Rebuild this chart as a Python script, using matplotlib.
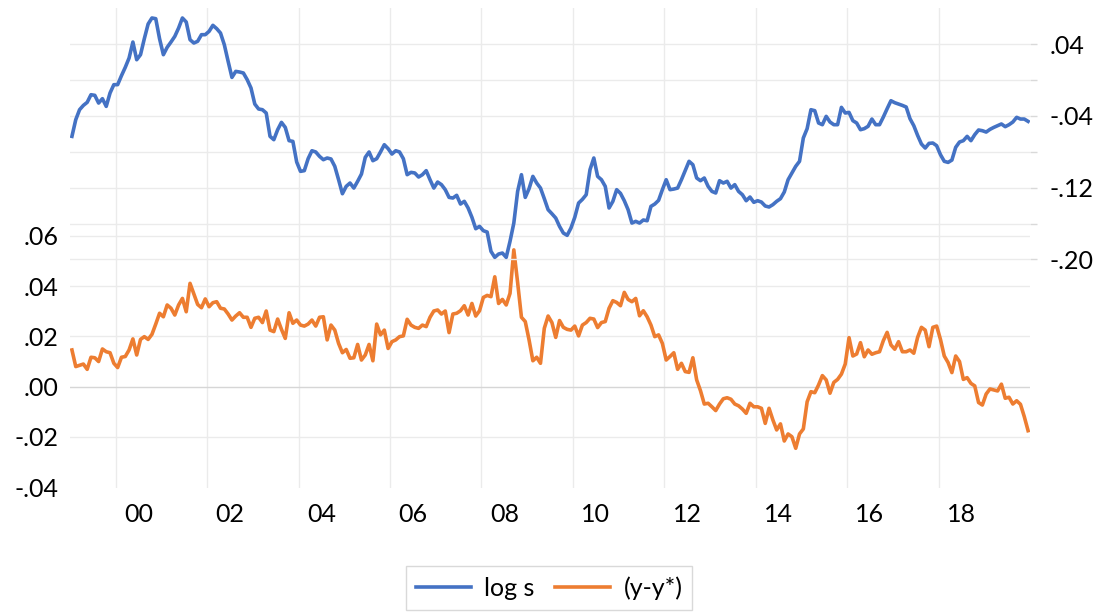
import numpy as np
import matplotlib
matplotlib.use("Agg")
import matplotlib.pyplot as plt
from matplotlib.lines import Line2D

plt.rcParams["font.family"] = ["Lato", "DejaVu Sans"]

# monthly data, 1999M01 - 2019M12, split into 7-year blocks
start_year = 1999

log_s_99_05 = [
    -0.0629, -0.0443, -0.0332, -0.0284, -0.0250, -0.0165, -0.0172, -0.0258, -0.0209, -0.0295,
    -0.0146, -0.0053, -0.0053, 0.0047, 0.0140, 0.0244, 0.0422, 0.0225, 0.0281, 0.0459,
    0.0623, 0.0690, 0.0682, 0.0459, 0.0281, 0.0363, 0.0422, 0.0485, 0.0578, 0.0690,
    0.0645, 0.0448, 0.0411, 0.0430, 0.0504, 0.0504, 0.0541, 0.0608, 0.0571, 0.0522,
    0.0392, 0.0207, 0.0028, 0.0095, 0.0088, 0.0077, 0.0003, -0.0090, -0.0269, -0.0324,
    -0.0332, -0.0369, -0.0629, -0.0666, -0.0555, -0.0473, -0.0529, -0.0677, -0.0685, -0.0915,
    -0.1019, -0.1011, -0.0878, -0.0789, -0.0803, -0.0852, -0.0889, -0.0870, -0.0881, -0.0963,
    -0.1112, -0.1268, -0.1186, -0.1149, -0.1205, -0.1130, -0.1049, -0.0863, -0.0803, -0.0900,
    -0.0878, -0.0803, -0.0722, -0.0766,
]
log_s_06_12 = [
    -0.0826, -0.0789, -0.0803, -0.0878, -0.1056, -0.1030, -0.1037, -0.1082, -0.1056, -0.1011,
    -0.1112, -0.1205, -0.1138, -0.1167, -0.1223, -0.1309, -0.1316, -0.1286, -0.1383, -0.1353,
    -0.1427, -0.1531, -0.1658, -0.1632, -0.1680, -0.1695, -0.1910, -0.1977, -0.1940, -0.1929,
    -0.1977, -0.1799, -0.1595, -0.1242, -0.1056, -0.1309, -0.1212, -0.1075, -0.1149, -0.1205,
    -0.1323, -0.1446, -0.1491, -0.1539, -0.1632, -0.1706, -0.1732, -0.1650, -0.1531, -0.1372,
    -0.1331, -0.1279, -0.1000, -0.0870, -0.1075, -0.1112, -0.1186, -0.1427, -0.1353, -0.1223,
    -0.1264, -0.1346, -0.1446, -0.1595, -0.1576, -0.1595, -0.1561, -0.1569, -0.1409, -0.1383,
    -0.1342, -0.1223, -0.1112, -0.1223, -0.1216, -0.1205, -0.1112, -0.1011, -0.0907, -0.0945,
    -0.1093, -0.1123, -0.1093, -0.1186,
]
log_s_13_19 = [
    -0.1242, -0.1260, -0.1123, -0.1149, -0.1130, -0.1205, -0.1167, -0.1242, -0.1279, -0.1346,
    -0.1305, -0.1364, -0.1346, -0.1361, -0.1405, -0.1416, -0.1390, -0.1353, -0.1323, -0.1249,
    -0.1112, -0.1037, -0.0963, -0.0907, -0.0647, -0.0543, -0.0332, -0.0343, -0.0480, -0.0499,
    -0.0406, -0.0469, -0.0499, -0.0499, -0.0306, -0.0369, -0.0362, -0.0454, -0.0480, -0.0555,
    -0.0543, -0.0517, -0.0436, -0.0499, -0.0499, -0.0414, -0.0321, -0.0232, -0.0254, -0.0269,
    -0.0284, -0.0302, -0.0432, -0.0510, -0.0618, -0.0714, -0.0759, -0.0707, -0.0703, -0.0733,
    -0.0833, -0.0907, -0.0919, -0.0893, -0.0751, -0.0692, -0.0677, -0.0629, -0.0677, -0.0610,
    -0.0558, -0.0566, -0.0581, -0.0551, -0.0529, -0.0510, -0.0491, -0.0521, -0.0499, -0.0469,
    -0.0417, -0.0436, -0.0436, -0.0462,
]

gap_99_05 = [
    0.0146, 0.0080, 0.0085, 0.0090, 0.0069, 0.0117, 0.0115, 0.0100, 0.0150, 0.0139,
    0.0135, 0.0093, 0.0076, 0.0117, 0.0120, 0.0146, 0.0190, 0.0126, 0.0188, 0.0199,
    0.0188, 0.0208, 0.0249, 0.0292, 0.0278, 0.0325, 0.0312, 0.0285, 0.0325, 0.0351,
    0.0298, 0.0411, 0.0369, 0.0327, 0.0314, 0.0349, 0.0318, 0.0334, 0.0338, 0.0312,
    0.0309, 0.0289, 0.0265, 0.0281, 0.0294, 0.0276, 0.0276, 0.0236, 0.0272, 0.0276,
    0.0255, 0.0301, 0.0225, 0.0219, 0.0269, 0.0228, 0.0192, 0.0294, 0.0252, 0.0265,
    0.0245, 0.0241, 0.0249, 0.0265, 0.0241, 0.0276, 0.0278, 0.0186, 0.0245, 0.0225,
    0.0172, 0.0135, 0.0148, 0.0113, 0.0115, 0.0168, 0.0106, 0.0126, 0.0168, 0.0103,
    0.0249, 0.0206, 0.0225, 0.0152,
]
gap_06_12 = [
    0.0179, 0.0186, 0.0199, 0.0202, 0.0268, 0.0245, 0.0236, 0.0232, 0.0245, 0.0239,
    0.0276, 0.0301, 0.0305, 0.0289, 0.0301, 0.0215, 0.0289, 0.0292, 0.0302, 0.0322,
    0.0285, 0.0331, 0.0281, 0.0302, 0.0355, 0.0363, 0.0358, 0.0437, 0.0331, 0.0347,
    0.0325, 0.0371, 0.0544, 0.0414, 0.0276, 0.0259, 0.0186, 0.0103, 0.0117, 0.0093,
    0.0232, 0.0281, 0.0255, 0.0196, 0.0263, 0.0236, 0.0228, 0.0225, 0.0241, 0.0202,
    0.0245, 0.0255, 0.0272, 0.0269, 0.0235, 0.0255, 0.0259, 0.0312, 0.0342, 0.0335,
    0.0322, 0.0375, 0.0347, 0.0338, 0.0351, 0.0282, 0.0302, 0.0278, 0.0245, 0.0199,
    0.0206, 0.0172, 0.0106, 0.0120, 0.0135, 0.0069, 0.0093, 0.0060, 0.0057, 0.0115,
    0.0027, -0.0016, -0.0069, -0.0066,
]
gap_13_19 = [
    -0.0080, -0.0095, -0.0069, -0.0048, -0.0044, -0.0050, -0.0069, -0.0076, -0.0089, -0.0106,
    -0.0066, -0.0080, -0.0080, -0.0086, -0.0146, -0.0086, -0.0132, -0.0172, -0.0148, -0.0216,
    -0.0188, -0.0199, -0.0245, -0.0188, -0.0168, -0.0060, -0.0020, -0.0024, 0.0007, 0.0044,
    0.0027, -0.0026, 0.0017, 0.0029, 0.0050, 0.0090, 0.0195, 0.0122, 0.0130, 0.0175,
    0.0119, 0.0146, 0.0129, 0.0135, 0.0139, 0.0183, 0.0216, 0.0166, 0.0149, 0.0179,
    0.0139, 0.0139, 0.0146, 0.0133, 0.0196, 0.0236, 0.0225, 0.0159, 0.0236, 0.0241,
    0.0188, 0.0122, 0.0096, 0.0056, 0.0122, 0.0100, 0.0029, 0.0036, 0.0013, 0.0003,
    -0.0063, -0.0073, -0.0029, -0.0009, -0.0013, -0.0017, 0.0010, -0.0046, -0.0042, -0.0069,
    -0.0056, -0.0070, -0.0119, -0.0175,
]

left_ticks = [0.06, 0.04, 0.02, 0.00, -0.02, -0.04]
left_labels = [".06", ".04", ".02", ".00", "-.02", "-.04"]
left_grid = [0.06, 0.04, 0.02, -0.02]
right_ticks = [0.04, -0.04, -0.12, -0.20]
right_labels = [".04", "-.04", "-.12", "-.20"]
right_minor = [0.00, -0.08, -0.16]
year_ticks = list(range(2000, 2020, 2))
year_labels = ["00", "02", "04", "06", "08", "10", "12", "14", "16", "18"]

log_s = np.array(log_s_99_05 + log_s_06_12 + log_s_13_19)
gap = np.array(gap_99_05 + gap_06_12 + gap_13_19)
t = start_year + (np.arange(len(log_s)) + 0.5) / 12

blue = "#4472C4"
orange = "#ED7D31"
grid_c = "#ebebeb"
lw = 2.6

fig = plt.figure(figsize=(11.03, 6.12), dpi=100)
ax1 = fig.add_axes([0.0635, 0.2026, 0.8703, 0.7843])
ax2 = ax1.twinx()

ax1.set_xlim(1999, 2020)
ax1.set_ylim(-0.0403, 0.1506)
ax2.set_ylim(-0.4547, 0.0801)

for yr in year_ticks:
    ax1.axvline(yr, color=grid_c, lw=1, zorder=0)
for v in left_grid:
    ax1.axhline(v, color=grid_c, lw=1, zorder=0)
ax1.axhline(0.0, color="#d6d6d6", lw=1, zorder=0)
for v in right_ticks + right_minor:
    ax2.axhline(v, color=grid_c, lw=1, zorder=0)

ax1.plot(t, gap, color=orange, lw=lw, zorder=3)
ax2.plot(t, log_s, color=blue, lw=lw, zorder=3)

# x axis: year ticks carry grid, labels sit mid-year
ax1.set_xticks(year_ticks, [""] * len(year_ticks))
ax1.set_xticks([y + 0.5 for y in year_ticks], year_labels, minor=True)
ax1.tick_params(axis="x", which="both", length=0, pad=11, labelsize=18)

ax1.set_yticks(left_ticks, left_labels)
ax1.tick_params(axis="y", length=0, pad=8, labelsize=18)

ax2.set_yticks(right_ticks, right_labels)
ax2.set_yticks(right_minor, minor=True)
ax2.tick_params(axis="y", which="both", length=5, width=1, color="#d9d9d9",
                pad=9, labelsize=18)

for ax in (ax1, ax2):
    for sp in ax.spines.values():
        sp.set_visible(False)

handles = [Line2D([], [], color=blue, lw=lw), Line2D([], [], color=orange, lw=lw)]
fig.legend(handles, ["log s", "(y-y*)"], loc="upper center",
           bbox_to_anchor=(549 / 1103, 1 - 566 / 612), ncol=2, fontsize=18,
           frameon=True, fancybox=False, edgecolor="#d9d9d9", framealpha=1,
           borderaxespad=0, handlelength=2.2, handletextpad=0.55,
           columnspacing=0.8, borderpad=0.4)

fig.savefig("out.png", dpi=100)
